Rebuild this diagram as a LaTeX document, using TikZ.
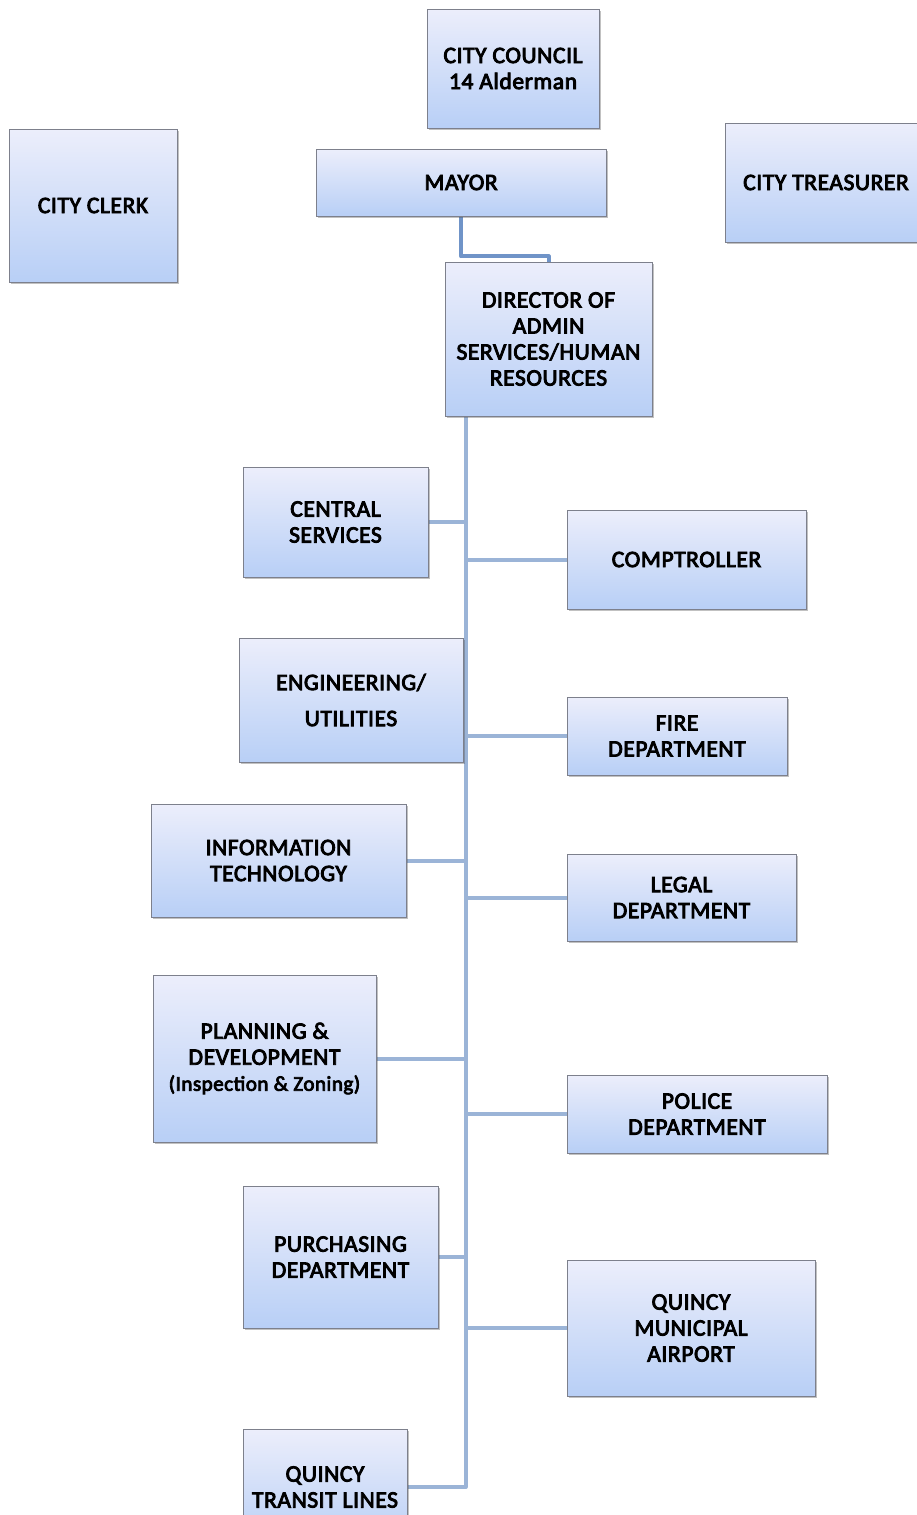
\documentclass[tikz,border=0pt]{standalone}
\usepackage{fontspec}
\setmainfont{Carlito}
\newfontfamily\boxfont{Carlito}[FakeBold=3.8, LetterSpace=2.5]
\usetikzlibrary{shadows,backgrounds,calc}
\definecolor{boxtop}{RGB}{236,238,251}
\definecolor{boxbot}{RGB}{184,207,246}
\definecolor{boxline}{RGB}{125,128,140}
\definecolor{linkblue}{RGB}{155,180,215}
\definecolor{mayorlink}{RGB}{112,148,200}
\tikzset{
  box/.style={draw=boxline, line width=0.8pt, top color=boxtop, bottom color=boxbot,
    align=center, inner sep=0pt, font=\boxfont\fontsize{23.5}{26}\selectfont,
    drop shadow={shadow xshift=1.5pt, shadow yshift=-2pt, opacity=0.35, fill=black!70}},
  link/.style={draw=linkblue, line width=4pt, line join=round},
  toplink/.style={draw=mayorlink, line width=4pt, line join=round},
}
\begin{document}
\begin{tikzpicture}[x=1pt,y=-1pt]
\useasboundingbox (0,0) rectangle (917,1515);

% top tier
\node[box, minimum width=172, minimum height=119] (council) at (513,68.5) {CITY COUNCIL\\14 Alderman};
\node[box, minimum width=290, minimum height=67] (mayor) at (461,182.5) {MAYOR};
\node[box, minimum width=168, minimum height=153] (clerk) at (93,205.5) {CITY CLERK};
\node[box, minimum width=202, minimum height=119] (treasurer) at (826,182.5) {CITY TREASURER};
\node[box, minimum width=207, minimum height=154] (director) at (548.5,339) {DIRECTOR OF\\ADMIN\\SERVICES/HUMAN\\RESOURCES};

% departments, left column
\node[box, minimum width=185, minimum height=110] (central) at (335.5,522) {CENTRAL\\SERVICES};
\node[box, minimum width=224, minimum height=124] (eng) at (351,700) {ENGINEERING/\\[10pt]UTILITIES};
\node[box, minimum width=255, minimum height=113] (it) at (278.5,860.5) {INFORMATION\\TECHNOLOGY};
\node[box, minimum width=223, minimum height=167] (plan) at (264.5,1058.5) {PLANNING \&\\DEVELOPMENT\\{\fontsize{21}{26}\selectfont(Inspection \& Zoning)}};
\node[box, minimum width=195, minimum height=142] (purch) at (340.5,1257) {PURCHASING\\DEPARTMENT};
\node[box, minimum width=164, minimum height=116] (transit) at (325,1487) {QUINCY\\TRANSIT LINES};

% departments, right column
\node[box, minimum width=239, minimum height=99] (comp) at (686.5,559.5) {COMPTROLLER};
\node[box, minimum width=220, minimum height=78] (fire) at (677,736) {FIRE\\DEPARTMENT};
\node[box, minimum width=229, minimum height=87] (legal) at (681.5,897.5) {LEGAL\\DEPARTMENT};
\node[box, minimum width=260, minimum height=78] (police) at (697,1114) {POLICE\\DEPARTMENT};
\node[box, minimum width=248, minimum height=136] (airport) at (691,1328) {QUINCY\\MUNICIPAL\\AIRPORT};

\begin{scope}[on background layer]
  \coordinate (trunk) at ($(director.south west)+(21,0)$);
  \draw[toplink] (mayor.south) -- ++(0,40) -| (director.north);
  \draw[link] (trunk) |- (transit.east);
  \draw[link] (central.east) -- (central.east -| trunk);
  \draw[link] (it.east) -- (it.east -| trunk);
  \draw[link] (plan.east) -- (plan.east -| trunk);
  \draw[link] (purch.east) -- (purch.east -| trunk);
  \draw[link] (comp.west) -- (comp.west -| trunk);
  \draw[link] (fire.west) -- (fire.west -| trunk);
  \draw[link] (legal.west) -- (legal.west -| trunk);
  \draw[link] (police.west) -- (police.west -| trunk);
  \draw[link] (airport.west) -- (airport.west -| trunk);
\end{scope}
\end{tikzpicture}
\end{document}
